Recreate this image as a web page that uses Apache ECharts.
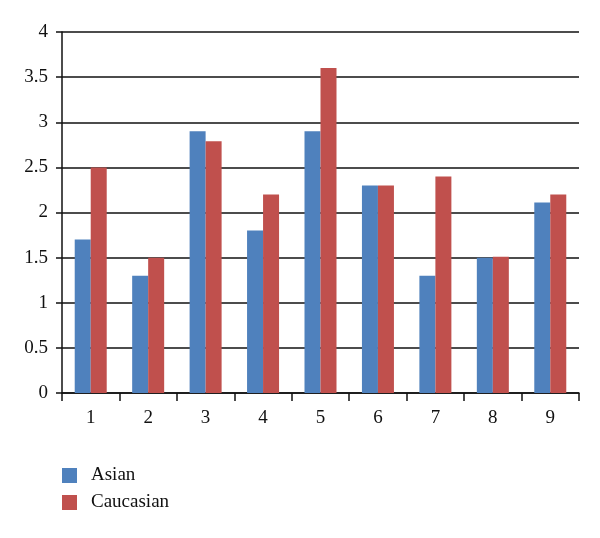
<!DOCTYPE html>
<html>
<head>
<meta charset="utf-8">
<script src="https://cdn.jsdelivr.net/npm/echarts@6/dist/echarts.min.js"></script>
<style>html,body{margin:0;padding:0;background:#fff}#c{width:600px;height:538px}</style>
</head>
<body>
<div id="c"></div>
<script>
const categories = ['1','2','3','4','5','6','7','8','9'];
const asian = [1.7, 1.3, 2.9, 1.8, 2.9, 2.3, 1.3, 1.5, 2.11];
const caucasian = [2.5, 1.5, 2.79, 2.2, 3.6, 2.3, 2.4, 1.51, 2.2];
const yTicks = [0, 0.5, 1, 1.5, 2, 2.5, 3, 3.5, 4];

const FONT = '"Liberation Serif", "DejaVu Serif", serif';
const chart = echarts.init(document.getElementById('c'), null, {renderer: 'canvas'});
chart.setOption({
  animation: false,
  backgroundColor: '#fff',
  grid: {left: 62, right: 21, top: 32, bottom: 145, containLabel: false},
  legend: {
    orient: 'vertical', left: 62, top: 466, padding: 0,
    itemWidth: 15, itemHeight: 15, itemGap: 8,
    icon: 'rect',
    textStyle: {fontFamily: FONT, fontSize: 19, color: '#111', padding: [0, 0, 0, 9]},
    data: ['Asian', 'Caucasian']
  },
  xAxis: {
    type: 'category', data: categories,
    axisLine: {lineStyle: {color: '#111', width: 1.5}},
    axisTick: {show: true, length: 8, lineStyle: {color: '#111', width: 1.5}},
    axisLabel: {fontFamily: FONT, fontSize: 19, color: '#111', margin: 16}
  },
  yAxis: {
    type: 'value', min: yTicks[0], max: yTicks[yTicks.length - 1], interval: 0.5,
    axisLine: {show: true, lineStyle: {color: '#111', width: 1.5}},
    axisTick: {show: true, length: 6, lineStyle: {color: '#111', width: 1.5}},
    axisLabel: {fontFamily: FONT, fontSize: 19, color: '#111', margin: 14},
    splitLine: {lineStyle: {color: '#111', width: 1.5}}
  },
  series: [
    {name: 'Asian', type: 'bar', data: asian, barWidth: 16, barGap: '0%',
     itemStyle: {color: '#4F81BD'}},
    {name: 'Caucasian', type: 'bar', data: caucasian, barWidth: 16, barGap: '0%',
     itemStyle: {color: '#C0504D'}}
  ]
});
</script>
</body>
</html>
